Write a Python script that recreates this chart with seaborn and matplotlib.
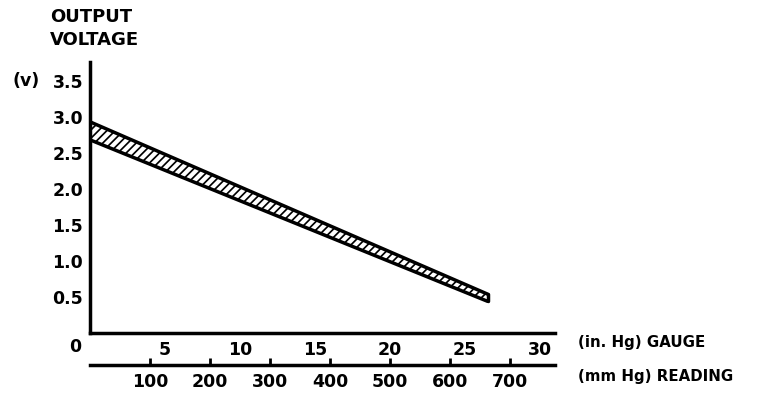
import matplotlib
matplotlib.use("Agg")
import matplotlib.pyplot as plt
import seaborn as sns
import pandas as pd

# band of output voltage vs vacuum gauge reading
pressure_inhg = [0, 26.5]
upper_v = [2.93, 0.54]
lower_v = [2.68, 0.44]

inhg_ticks = [5, 10, 15, 20, 25, 30]
mmhg_ticks = [100, 200, 300, 400, 500, 600, 700]
volt_ticks = [0.5, 1.0, 1.5, 2.0, 2.5, 3.0, 3.5]

df = pd.DataFrame({"p": pressure_inhg, "hi": upper_v, "lo": lower_v})

sns.set_style("white")
plt.rcParams["font.family"] = ["DejaVu Sans"]
plt.rcParams["font.weight"] = "bold"
plt.rcParams["text.color"] = "black"
plt.rcParams["hatch.linewidth"] = 3.0
plt.rcParams["hatch.color"] = "white"

fig = plt.figure(figsize=(7.68, 4.04), dpi=100)
ax = fig.add_axes([90 / 768, 71 / 404, 465 / 768, 271 / 404])

ax.fill_between(df["p"], df["lo"], df["hi"], facecolor="black",
                edgecolor="white", hatch="////", linewidth=0)
sns.lineplot(data=df, x="p", y="hi", color="black", lw=2.5, ax=ax)
sns.lineplot(data=df, x="p", y="lo", color="black", lw=2.5, ax=ax)
ax.plot([pressure_inhg[-1]] * 2, [lower_v[-1], upper_v[-1]], color="black", lw=2.5)

ax.set_xlim(0, 31)
ax.set_ylim(0, 3.76)
ax.set_xlabel("")
ax.set_ylabel("")

sns.despine(ax=ax)
for s in ["left", "bottom"]:
    ax.spines[s].set_linewidth(2.5)
    ax.spines[s].set_color("black")

ax.set_xticks(inhg_ticks)
ax.set_xticklabels([str(t) for t in inhg_ticks])
ax.set_yticks(volt_ticks)
ax.set_yticklabels([f"{t:.1f}" for t in volt_ticks])
ax.tick_params(axis="both", direction="in", length=5, width=2, labelsize=12.5,
               colors="black")
ax.tick_params(axis="x", pad=6)
ax.tick_params(axis="y", pad=5)

sec = ax.secondary_xaxis(-32 / 271, functions=(lambda x: x * 25, lambda x: x / 25))
sec.set_xticks(mmhg_ticks)
sec.set_xticklabels([str(t) for t in mmhg_ticks])
sec.tick_params(direction="in", length=5, width=2, labelsize=12.5, pad=6,
                colors="black")
sec.spines["bottom"].set_linewidth(2.5)
sec.spines["bottom"].set_color("black")

ax.text(-1.0, -0.2, "0", ha="center", va="center", fontsize=12.5,
        fontweight="bold", color="black", clip_on=False)

fig.text(50 / 768, 1 - 17 / 404, "OUTPUT", fontsize=13, fontweight="bold",
         color="black", ha="left", va="center")
fig.text(50 / 768, 1 - 40 / 404, "VOLTAGE", fontsize=13, fontweight="bold",
         color="black", ha="left", va="center")
fig.text(12 / 768, 1 - 81 / 404, "(v)", fontsize=12.5, fontweight="bold",
         color="black", ha="left", va="center")
fig.text(578 / 768, 1 - 343 / 404, "(in. Hg) GAUGE", fontsize=10.8,
         fontweight="bold", color="black", ha="left", va="center")
fig.text(578 / 768, 1 - 376 / 404, "(mm Hg) READING", fontsize=10.8,
         fontweight="bold", color="black", ha="left", va="center")

fig.savefig("out.png", dpi=100, facecolor="white")
